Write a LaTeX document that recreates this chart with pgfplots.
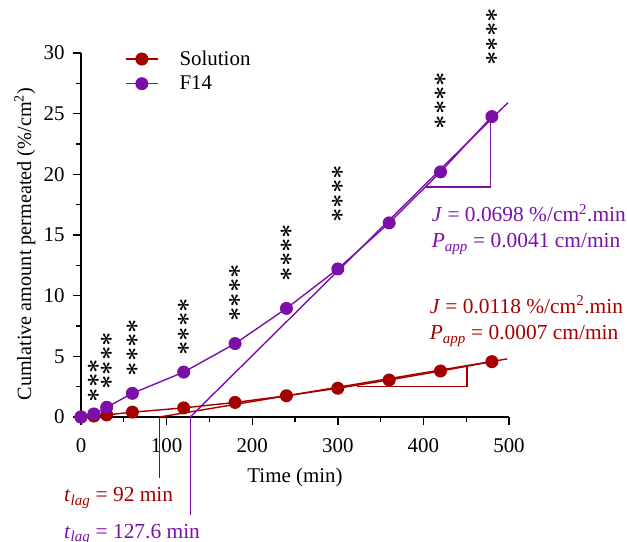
\documentclass[border=0pt]{standalone}
\usepackage{fontspec}
\setmainfont{Liberation Serif}
\usepackage{pgfplots}
\pgfplotsset{compat=1.18}
\definecolor{solred}{HTML}{A50000}
\definecolor{fpurple}{HTML}{7B10A8}
\newcommand{\bigfont}{\fontsize{21}{25}\selectfont}
\newcommand{\annfont}{\fontsize{21.5}{25}\selectfont}
\font\starfont=cmbsy10 at 25bp
\newcommand{\threestars}{{\starfont\char3\char3\char3}}
\newcommand{\fourstars}{{\starfont\char3\char3\char3\char3}}
\pgfplotsset{
  shortlegend/.style={legend image code/.code={%
    \draw[mark repeat=2,mark phase=2,##1]
      plot coordinates {(0bp,0bp) (16bp,0bp) (32bp,0bp)};}},
}

\begin{document}
\begin{tikzpicture}
\path[use as bounding box] (-81bp,-125bp) rectangle (546bp,417bp);
\begin{axis}[
  at={(0bp,0bp)}, anchor=south west,
  scale only axis, width=428bp, height=364bp,
  xmin=0, xmax=500, ymin=0, ymax=30,
  axis lines*=left, axis line style={-, line width=1.4bp},
  xtick={0,100,...,500}, ytick={0,5,...,30},
  minor x tick num=1, minor y tick num=1,
  tick align=outside, major tick length=8bp, minor tick length=5bp,
  major tick style={black, line width=1.4bp},
  minor tick style={black, line width=1.4bp},
  tick label style={font=\bigfont},
  xticklabel style={yshift=-10bp},
  yticklabel style={xshift=-5bp},
  /pgf/number format/assume math mode=true,
  label style={font=\bigfont},
  xlabel={Time (min)},
  ylabel={Cumlative amount permeated (\%/cm\textsuperscript{2})},
  xlabel style={at={(axis description cs:0.5,-0.165)}, anchor=center},
  ylabel style={at={(axis description cs:-0.131,0.475)}, anchor=center,
    font=\fontsize{20.3}{24}\selectfont},
  clip=false,
  legend style={draw=none, fill=none, at={(0.1027,1.0087)}, anchor=north west,
    inner sep=0pt, row sep=7bp, column sep=20bp, nodes={inner sep=1bp, font=\bigfont}},
  legend cell align=left,
  shortlegend,
]

% fit lines and triangles
\addplot[solred, line width=1.4bp, forget plot] coordinates {(92,0) (498,4.79)};
\addplot[solred, line width=1.2bp, forget plot] coordinates {(322,2.5) (451,2.5) (451,4.24)};
\addplot[solred, line width=1.2bp, forget plot] coordinates {(92,0) (92,-5.03)};
\addplot[fpurple, line width=1.4bp, forget plot] coordinates {(127.6,0) (498.6,25.9)};
\addplot[fpurple, line width=1.2bp, forget plot] coordinates {(402.6,18.95) (478.4,18.95) (478.4,24.5)};
\addplot[fpurple, line width=1.2bp, forget plot] coordinates {(127.6,0) (127.6,-8.1)};

% data
\addplot[solred, line width=1.4bp, mark=*, mark size=5.8bp,
  mark options={solid, fill=solred, draw=solred}]
  coordinates {(0,0) (15,0.08) (30,0.17) (60,0.4) (120,0.75) (180,1.2)
               (240,1.75) (300,2.37) (360,3.05) (420,3.79) (480,4.56)};
\addplot[fpurple, line width=1.4bp, mark=*, mark size=5.8bp,
  mark options={solid, fill=fpurple, draw=fpurple}]
  coordinates {(0,0) (15,0.25) (30,0.8) (60,1.95) (120,3.7) (180,6.05)
               (240,8.95) (300,12.2) (360,16.0) (420,20.2) (480,24.76)};
\legend{Solution, F14}

% significance stars
\node[rotate=90, inner sep=0pt] at (axis cs:15,3.01)   {\threestars};
\node[rotate=90, inner sep=0pt] at (axis cs:30,4.62)   {\fourstars};
\node[rotate=90, inner sep=0pt] at (axis cs:60,5.73)   {\fourstars};
\node[rotate=90, inner sep=0pt] at (axis cs:120,7.42)  {\fourstars};
\node[rotate=90, inner sep=0pt] at (axis cs:180,10.22) {\fourstars};
\node[rotate=90, inner sep=0pt] at (axis cs:240,13.56) {\fourstars};
\node[rotate=90, inner sep=0pt] at (axis cs:300,18.38) {\fourstars};
\node[rotate=90, inner sep=0pt] at (axis cs:420,26.09) {\fourstars};
\node[rotate=90, inner sep=0pt] at (axis cs:480,31.33) {\fourstars};

% annotations
\node[anchor=base west, inner sep=0pt, font=\annfont, text=fpurple] at (axis cs:409.6,16.08) {\textit{J} = 0.0698 \%/cm\textsuperscript{2}.min};
\node[anchor=base west, inner sep=0pt, font=\annfont, text=fpurple] at (axis cs:409.6,13.93) {\textit{P}\textsubscript{\textit{app}} = 0.0041 cm/min};
\node[anchor=base west, inner sep=0pt, font=\annfont, text=solred] at (axis cs:407.2,8.55) {\textit{J} = 0.0118 \%/cm\textsuperscript{2}.min};
\node[anchor=base west, inner sep=0pt, font=\annfont, text=solred] at (axis cs:407.2,6.35) {\textit{P}\textsubscript{\textit{app}} = 0.0007 cm/min};
\node[anchor=base west, inner sep=0pt, font=\annfont, text=solred] at (axis cs:-19.8,-7.0) {\textit{t}\textsubscript{\textit{lag}} = 92 min};
\node[anchor=base west, inner sep=0pt, font=\annfont, text=fpurple] at (axis cs:-19.8,-9.98) {\textit{t}\textsubscript{\textit{lag}} = 127.6 min};
\end{axis}
\end{tikzpicture}
\end{document}
